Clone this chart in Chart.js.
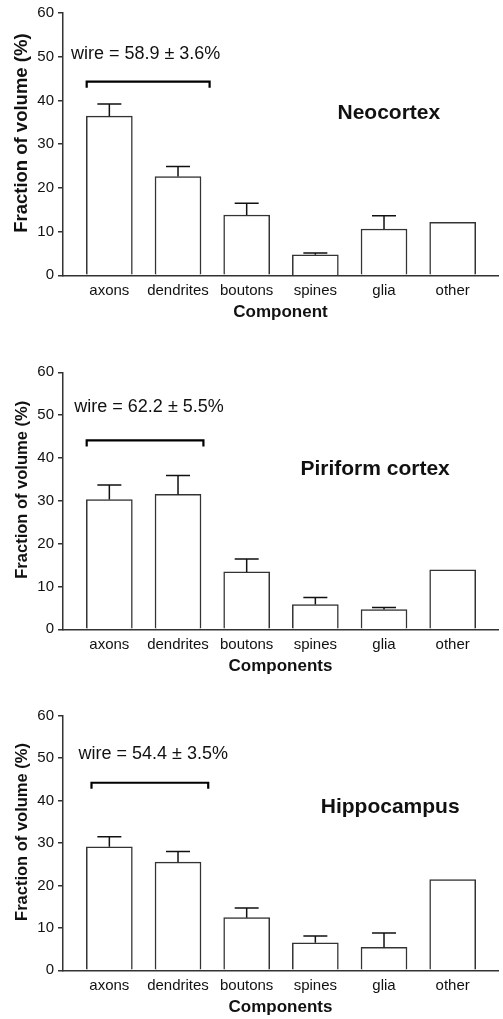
<!DOCTYPE html>
<html>
<head>
<meta charset="utf-8">
<script src="https://cdn.jsdelivr.net/npm/chart.js@4.4.1/dist/chart.umd.min.js"></script>
<style>
  html, body { margin: 0; padding: 0; background: #fff; }
  body { width: 503px; height: 1019px; position: relative; overflow: hidden; }
  .box { position: absolute; left: 0; width: 503px; }
</style>
</head>
<body>
<div class="box" style="top:0px;height:323px"><canvas id="neo"></canvas></div>
<div class="box" style="top:330px;height:347px"><canvas id="piri"></canvas></div>
<div class="box" style="top:680px;height:338px"><canvas id="hippo"></canvas></div>
<script>
const components = ['axons', 'dendrites', 'boutons', 'spines', 'glia', 'other'];
const yTicks = [0, 10, 20, 30, 40, 50, 60];

// mean fraction of volume (%) and upper error (SEM)
const neoValues = [36.4, 22.6, 13.8, 4.7, 10.6, 12.1];
const neoErrors = [2.8, 2.3, 2.7, 0.4, 3.0, 0];
const piriValues = [30.3, 31.5, 13.4, 5.8, 4.6, 13.9];
const piriErrors = [3.4, 4.4, 3.0, 1.6, 0.5, 0];
const hippoValues = [29.1, 25.5, 12.4, 6.5, 5.4, 21.4];
const hippoErrors = [2.4, 2.5, 2.3, 1.6, 3.4, 0];

const FONT = "'Liberation Sans', Arial, Helvetica, sans-serif";
const INK = '#111';
const LINE = '#333';

// error bars, "wire" bracket, labels inside the plot, y axis title
const extras = {
  id: 'extras',
  afterDatasetsDraw(chart, args, o) {
    const ctx = chart.ctx;
    const x = chart.scales.x, y = chart.scales.y;
    const area = chart.chartArea;
    ctx.save();

    ctx.strokeStyle = INK;
    ctx.lineWidth = 1.5;
    o.values.forEach((v, i) => {
      const e = o.errors[i];
      if (!e) return;
      const px = x.getPixelForValue(i);
      const top = y.getPixelForValue(v + e);
      ctx.beginPath();
      ctx.moveTo(px, y.getPixelForValue(v));
      ctx.lineTo(px, top);
      ctx.moveTo(px - 12, top);
      ctx.lineTo(px + 12, top);
      ctx.stroke();
    });

    // bracket over axons + dendrites
    const b = o.bracket;
    const bx1 = x.getPixelForValue(b.from), bx2 = x.getPixelForValue(b.to);
    const by = y.getPixelForValue(b.at);
    ctx.lineWidth = 2.2;
    ctx.strokeStyle = '#000';
    ctx.beginPath();
    ctx.moveTo(bx1, by + 6);
    ctx.lineTo(bx1, by);
    ctx.lineTo(bx2, by);
    ctx.lineTo(bx2, by + 6);
    ctx.stroke();

    ctx.fillStyle = INK;
    ctx.textBaseline = 'middle';
    ctx.font = '18px ' + FONT;
    ctx.textAlign = 'left';
    ctx.fillText(o.wire.text, x.getPixelForValue(o.wire.x), y.getPixelForValue(o.wire.y));

    ctx.font = 'bold 21px ' + FONT;
    ctx.textAlign = 'center';
    ctx.fillText(o.region.text, x.getPixelForValue(o.region.x), y.getPixelForValue(o.region.y));

    // y axis title, sits a bit above the middle of the axis
    ctx.translate(22, (area.top + area.bottom) / 2 - 11);
    ctx.rotate(-Math.PI / 2);
    ctx.font = 'bold ' + o.yTitleSize + 'px ' + FONT;
    ctx.fillText('Fraction of volume (%)', 0, 0);
    ctx.restore();
  }
};

function draw(id, values, errors, o) {
  new Chart(document.getElementById(id), {
    type: 'bar',
    data: {
      datasets: [{
        data: values.map((v, i) => ({ x: i, y: v })),
        backgroundColor: '#fff',
        borderColor: LINE,
        borderWidth: 1.5,
        barThickness: 46
      }]
    },
    options: {
      responsive: true,
      maintainAspectRatio: false,
      animation: false,
      layout: { padding: { top: o.padTop, right: 5, left: 0, bottom: 0 } },
      plugins: {
        legend: { display: false },
        tooltip: { enabled: false },
        extras: Object.assign({ values: values, errors: errors }, o)
      },
      scales: {
        x: {
          type: 'linear',
          offset: false,
          min: -0.675,
          max: 5.66,
          grid: { display: false, drawTicks: false },
          border: { display: true, color: LINE, width: 1.5 },
          afterBuildTicks: s => { s.ticks = components.map((c, i) => ({ value: i })); },
          afterFit: s => { s.height = 47.7; },
          ticks: {
            autoSkip: false,
            maxRotation: 0,
            padding: 7,
            color: INK,
            font: { family: FONT, size: 15 },
            callback: v => components[v]
          },
          title: {
            display: true,
            text: o.xTitle,
            color: INK,
            padding: 0,
            font: { family: FONT, size: 17, weight: 'bold' }
          }
        },
        y: {
          min: 0,
          max: 60,
          afterBuildTicks: s => { s.ticks = yTicks.map(v => ({ value: v })); },
          afterFit: s => { s.width = 63; },
          grid: { drawOnChartArea: false, drawTicks: true, tickLength: 5, color: LINE, lineWidth: 1.5 },
          border: { display: true, color: LINE, width: 1.5 },
          ticks: {
            padding: 4,
            color: INK,
            font: { family: FONT, size: 15 }
          }
        }
      }
    },
    plugins: [extras]
  });
}

draw('neo', neoValues, neoErrors, {
  padTop: 12.3,
  xTitle: 'Component',
  yTitleSize: 18.5,
  bracket: { from: -0.33, to: 1.46, at: 44.3 },
  wire: { text: 'wire = 58.9 \u00b1 3.6%', x: -0.56, y: 50.6 },
  region: { text: 'Neocortex', x: 4.07, y: 37.1 }
});
draw('piri', piriValues, piriErrors, {
  padTop: 42.3,
  xTitle: 'Components',
  yTitleSize: 16.5,
  bracket: { from: -0.33, to: 1.37, at: 44.1 },
  wire: { text: 'wire = 62.2 \u00b1 5.5%', x: -0.51, y: 52 },
  region: { text: 'Piriform cortex', x: 3.87, y: 37.4 }
});
draw('hippo', hippoValues, hippoErrors, {
  padTop: 35.7,
  xTitle: 'Components',
  yTitleSize: 16.5,
  bracket: { from: -0.26, to: 1.44, at: 44.2 },
  wire: { text: 'wire = 54.4 \u00b1 3.5%', x: -0.45, y: 50.9 },
  region: { text: 'Hippocampus', x: 4.09, y: 38.4 }
});
</script>
</body>
</html>
